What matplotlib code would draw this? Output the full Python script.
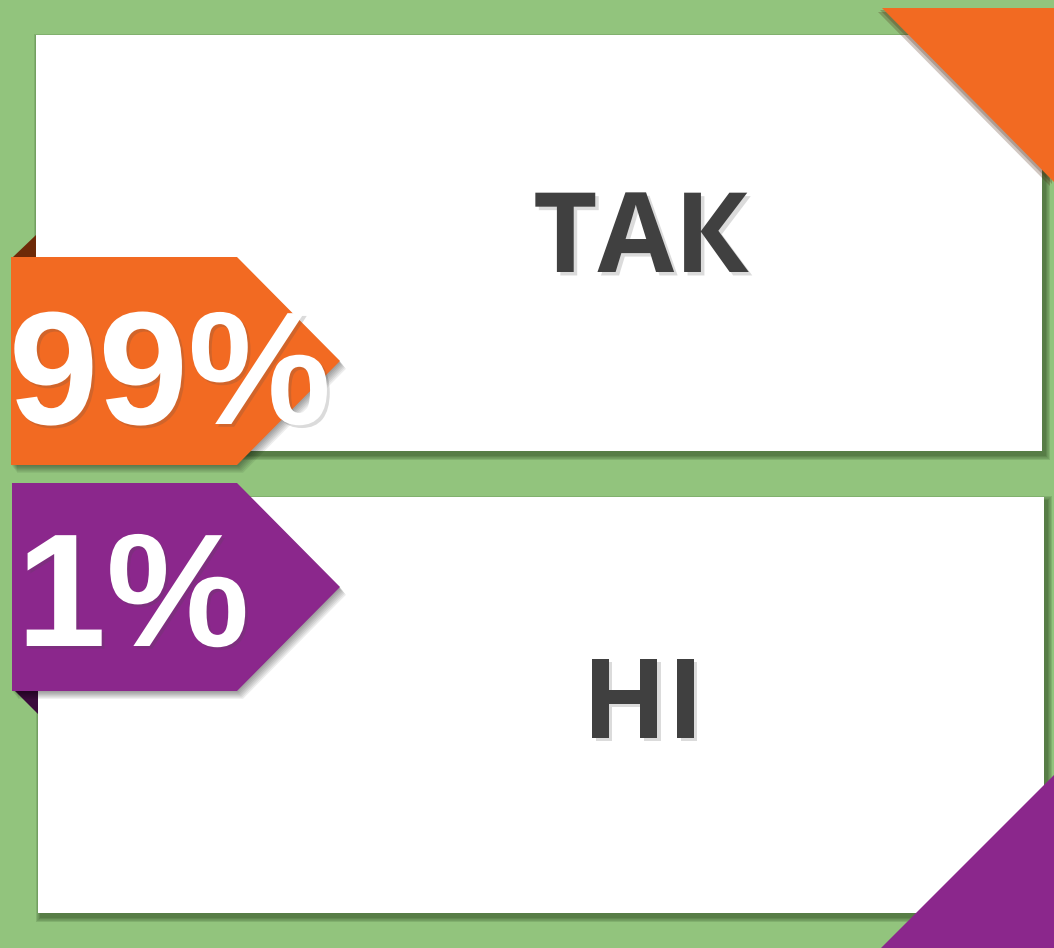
import matplotlib
matplotlib.use("Agg")
import matplotlib.pyplot as plt
from matplotlib.patches import Polygon, Rectangle
import matplotlib.patheffects as pe

# data
labels = ["ТАК", "НІ"]
values = [99, 1]
tag_colors = ["#F26A22", "#8B278C"]
fold_colors = ["#6E2A08", "#3B0B3C"]
bg_color = "#92C47D"
text_color = "#404040"

# layout in pixel units (y grows down)
cards = [(36, 35, 1042, 451), (38, 497, 1044, 913)]
tags = [(11, 257, 237, 465, 340), (12, 483, 237, 691, 340)]
label_pos = [(641, 272), (643, 738)]
value_pos = [(170, 424), (133, 646)]

fig = plt.figure(figsize=(10.54, 9.48), dpi=100)
ax = fig.add_axes([0, 0, 1, 1])
ax.set_xlim(0, 1054)
ax.set_ylim(948, 0)
ax.axis("off")
fig.patch.set_facecolor(bg_color)

# cards with soft shadow
for (x0, y0, x1, y1) in cards:
    for k in range(9, 0, -1):
        ax.add_patch(Rectangle((x0 - k * 0.6 + 3, y0 - k * 0.6 + 4),
                               x1 - x0 + k * 1.2, y1 - y0 + k * 1.2,
                               facecolor="#1E3A12", edgecolor="none", alpha=0.07, zorder=1))
    ax.add_patch(Rectangle((x0, y0), x1 - x0, y1 - y0, facecolor="white",
                           edgecolor="none", zorder=2))

# corner triangles
ax.add_patch(Polygon([(882, 8), (1054, 8), (1054, 182)], closed=True,
                     facecolor=tag_colors[0], edgecolor="none", zorder=4,
                     path_effects=[pe.SimplePatchShadow(offset=(-3, -3), alpha=0.25),
                                   pe.SimplePatchShadow(offset=(-1.5, -1.5), alpha=0.25),
                                   pe.Normal()]))
ax.add_patch(Polygon([(1054, 775), (1054, 948), (881, 948)], closed=True,
                     facecolor=tag_colors[1], edgecolor="none", zorder=4))

# folds behind tags
ax.add_patch(Polygon([(13, 257), (36, 235), (36, 257)], closed=True,
                     facecolor=fold_colors[0], edgecolor="none", zorder=3))
ax.add_patch(Polygon([(15, 691), (38, 691), (38, 714)], closed=True,
                     facecolor=fold_colors[1], edgecolor="none", zorder=3))

# tags
for i, (x0, y0, x1, y1, xp) in enumerate(tags):
    ym = (y0 + y1) / 2
    pts = [(x0, y0), (x1, y0), (xp, ym), (x1, y1), (x0, y1)]
    for k in range(6, 0, -1):
        ax.add_patch(Polygon([(px + k, py + k * 1.3) for px, py in pts], closed=True,
                             facecolor="black", edgecolor="none", alpha=0.07, zorder=5))
    ax.add_patch(Polygon(pts, closed=True, facecolor=tag_colors[i],
                         edgecolor="none", zorder=6))

# labels
for (lx, ly), lab in zip(label_pos, labels):
    ax.text(lx, ly, lab, ha="center", va="baseline", fontsize=80,
            fontweight="bold", family=["Open Sans", "DejaVu Sans"], color=text_color,
            zorder=7,
            path_effects=[pe.withSimplePatchShadow(offset=(2.5, -2.5), alpha=0.25,
                                                   shadow_rgbFace="#707070")])

# values
for (vx, vy), v in zip(value_pos, values):
    ax.text(vx, vy, f"{v}%", ha="center", va="baseline", fontsize=116,
            fontweight="bold", family=["Liberation Sans", "DejaVu Sans"], color="white",
            zorder=8,
            path_effects=[pe.withSimplePatchShadow(offset=(2, -2), alpha=0.2)])

fig.savefig("out.png", dpi=100, facecolor=bg_color)
